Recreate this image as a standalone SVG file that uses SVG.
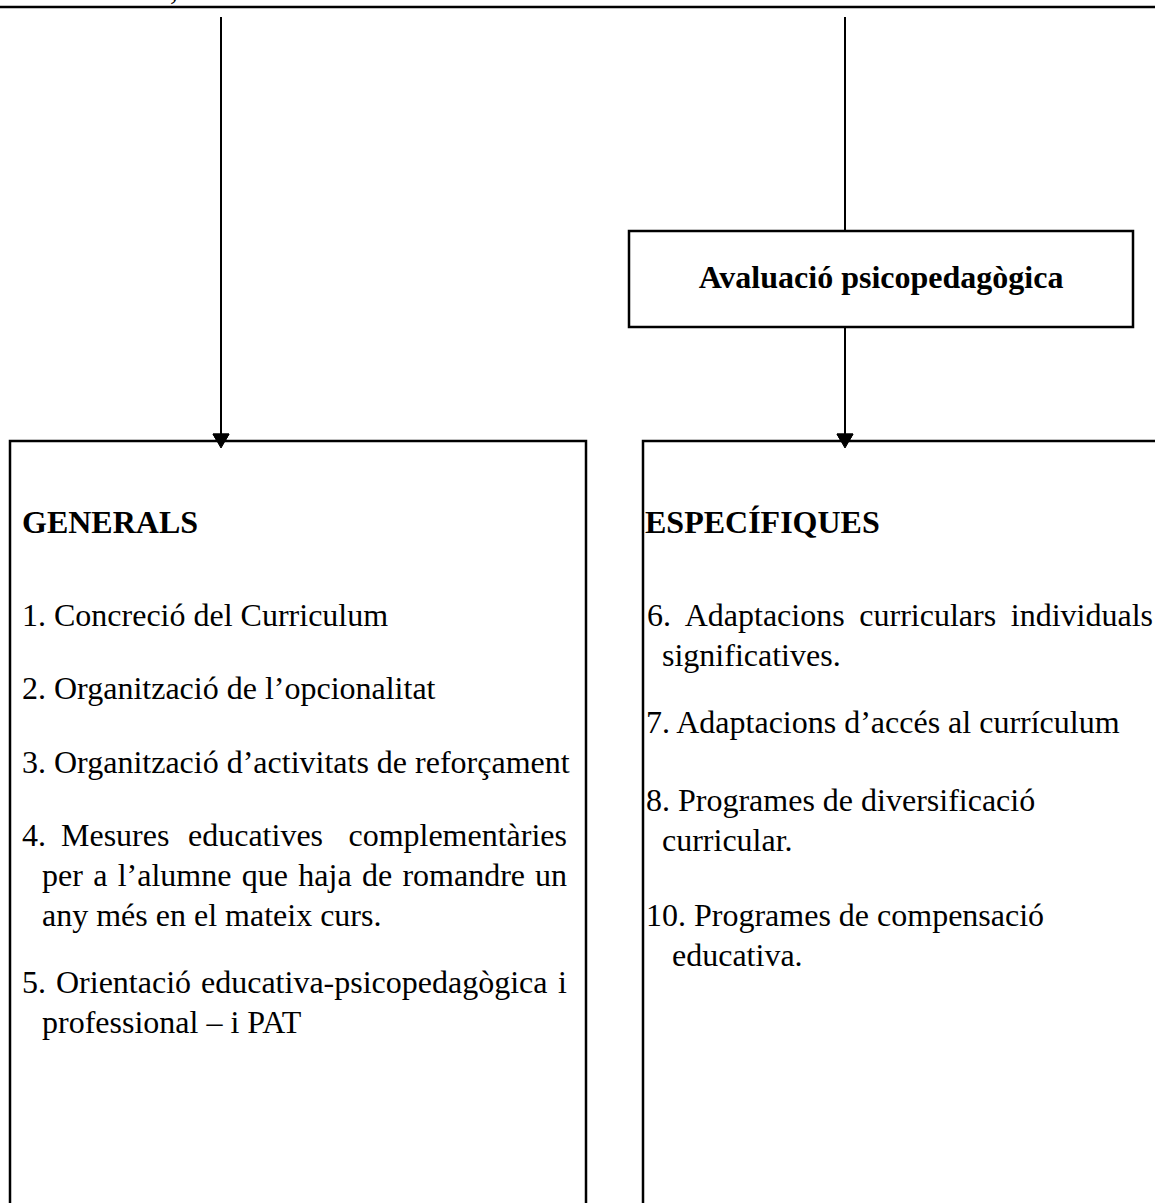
<svg xmlns="http://www.w3.org/2000/svg" width="1155" height="1203" viewBox="0 0 1155 1203">
<style>
  text { font-family: "Liberation Serif", "Times New Roman", serif; font-size: 32px; fill: #000; }
  .b { font-weight: bold; }
  .box { fill: #fff; stroke: #000; stroke-width: 2.5; }
  .ln { stroke: #000; stroke-width: 2; fill: none; }
  .hd { stroke: #000; fill: #000; }
</style>
<rect x="0" y="0" width="1155" height="1203" fill="#fff"/>
<text x="170" y="-1">,</text>
<line x1="0" y1="7" x2="1155" y2="7" stroke="#000" stroke-width="2.5"/>

<g id="connectors">
  <line class="ln" x1="221" y1="17" x2="221" y2="436"/>
  <polygon class="hd" points="213,434 229,434 221,448"/>
  <line class="ln" x1="845" y1="17" x2="845" y2="231"/>
  <line class="ln" x1="845" y1="327" x2="845" y2="436"/>
  <polygon class="hd" points="837,434 853,434 845,448"/>
</g>

<g id="avaluacio">
  <rect class="box" x="629" y="231" width="504" height="96"/>
  <text class="b" x="881" y="288" text-anchor="middle">Avaluació psicopedagògica</text>
</g>

<g id="generals">
  <rect class="box" x="10" y="441" width="576" height="800"/>
  <polygon class="hd" points="213,434 229,434 221,448"/>
  <text class="b" x="22" y="533">GENERALS</text>
  <text x="22" y="626">1. Concreció del Curriculum</text>
  <text x="22" y="699">2. Organització de l’opcionalitat</text>
  <text x="22" y="773">3. Organització d’activitats de reforçament</text>
  <text y="846"><tspan x="22">4.</tspan><tspan x="61">Mesures</tspan><tspan x="188">educatives</tspan><tspan x="567" text-anchor="end">complementàries</tspan></text>
  <text y="886"><tspan x="42">per</tspan><tspan x="93.2">a</tspan><tspan x="117.7">l’alumne</tspan><tspan x="241.8">que</tspan><tspan x="298.3">haja</tspan><tspan x="361.9">de</tspan><tspan x="402.4">romandre</tspan><tspan x="567" text-anchor="end">un</tspan></text>
  <text x="42" y="926">any més en el mateix curs.</text>
  <text y="993"><tspan x="22">5.</tspan><tspan x="56">Orientació</tspan><tspan x="201">educativa-psicopedagògica</tspan><tspan x="567" text-anchor="end">i</tspan></text>
  <text x="42" y="1033">professional – i PAT</text>
</g>

<g id="especifiques">
  <rect class="box" x="643" y="441" width="600" height="800"/>
  <polygon class="hd" points="837,434 853,434 845,448"/>
  <text class="b" x="645" y="533">ESPECÍFIQUES</text>
  <text y="626"><tspan x="647">6.</tspan><tspan x="684.7">Adaptacions</tspan><tspan x="859.3">curriculars</tspan><tspan x="1153" text-anchor="end">individuals</tspan></text>
  <text x="662" y="666">significatives.</text>
  <text x="646" y="733">7. Adaptacions d’accés al currículum</text>
  <text x="646" y="811">8. Programes de diversificació</text>
  <text x="662" y="851">curricular.</text>
  <text x="646" y="926">10. Programes de compensació</text>
  <text x="672" y="966">educativa.</text>
</g>
</svg>
